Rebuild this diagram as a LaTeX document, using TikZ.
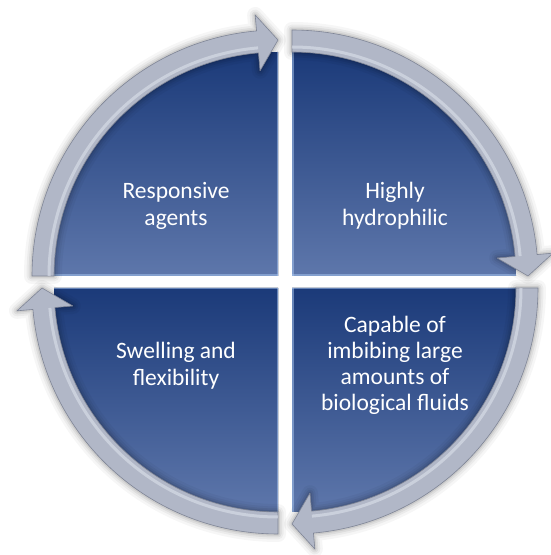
\documentclass[tikz,border=0pt]{standalone}
\usepackage{fontspec}
\setmainfont{Carlito}
\usetikzlibrary{calc}
\definecolor{navyD}{HTML}{1B3A79}
\definecolor{navyL}{HTML}{5E77AB}
\definecolor{ringG}{HTML}{B1B7C7}
\definecolor{ringE}{HTML}{7F8596}
\definecolor{ringH}{HTML}{D6DBE6}
\definecolor{bevel}{HTML}{A4C2EC}
\tikzset{
  quadfill/.style={top color=navyD, bottom color=navyL},
  ringfill/.style={fill=ringG, draw=ringE, line width=0.6pt, line join=round},
  shadowline/.style={draw=black, line join=round},
  label/.style={text=white, align=center, font=\fontsize{23.5}{27}\selectfont},
}
% #1 corner name, #2 start angle, #3 end angle (tip), #4 head back angle
\newcommand\ringpath[4]{($(#1)+(#2:224pt)$) -- ($(#1)+(#2:246pt)$)
  arc[start angle=#2, end angle=#4, radius=246pt]
  -- ($(#1)+(#4:262pt)$) -- ($(#1)+(#3:236pt)$) -- ($(#1)+(#4:206pt)$)
  -- ($(#1)+(#4:224pt)$) arc[start angle=#4, end angle=#2, radius=224pt] -- cycle}
\newcommand\quadpath[3]{(#1) -- ($(#1)+(#2:224pt)$) arc[start angle=#2, end angle=#3, radius=224pt] -- cycle}
\newcommand\drawquadrant[4]{%
  \fill[quadfill] \quadpath{#1}{#2}{#3};
  \begin{scope}
    \clip \quadpath{#1}{#2}{#3};
    \draw[bevel, line width=3pt, opacity=0.55] (#1) -- ($(#1)+(#2:224pt)$);
    \draw[bevel, line width=3pt, opacity=0.55] (#1) -- ($(#1)+(#3:224pt)$);
  \end{scope}
}
\newcommand\drawring[4]{%
  \foreach \w/\o in {16/0.035, 11/0.045, 7/0.06, 3.5/0.08}{
    \path[shadowline, line width=\w pt, opacity=\o] \ringpath{#1}{#2}{#3}{#4};
  }
  \path[ringfill] \ringpath{#1}{#2}{#3}{#4};
  \draw[ringH, line width=3pt, opacity=0.7] ($(#1)+(#2:229pt)$) arc[start angle=#2, end angle=#4, radius=229pt];
}
\begin{document}
\begin{tikzpicture}[x=1pt, y=1pt]
  \useasboundingbox (0,0) rectangle (550,555);
  \fill[white] (0,0) rectangle (550,555);
  \coordinate (cTL) at (278,279);
  \coordinate (cTR) at (292,279);
  \coordinate (cBR) at (292,267);
  \coordinate (cBL) at (278,267);
  \drawquadrant{cTL}{180}{90}{}
  \drawquadrant{cTR}{90}{0}{}
  \drawquadrant{cBR}{0}{-90}{}
  \drawquadrant{cBL}{270}{180}{}
  \drawring{cTL}{180}{90}{95}
  \drawring{cTR}{90}{0}{5}
  \drawring{cBR}{0}{-90}{-85}
  \drawring{cBL}{270}{180}{185}
  \node[label] (tResp) at (176,349) {Responsive\\agents};
  \node[label] (tHydro) at (395,349) {Highly\\hydrophilic};
  \node[label] (tSwell) at (176,189) {Swelling and\\flexibility};
  \node[label, font=\fontsize{23.5}{26}\selectfont] (tCap) at (395,190) {Capable of\\imbibing large\\amounts of\\biological fluids};
\end{tikzpicture}
\end{document}
